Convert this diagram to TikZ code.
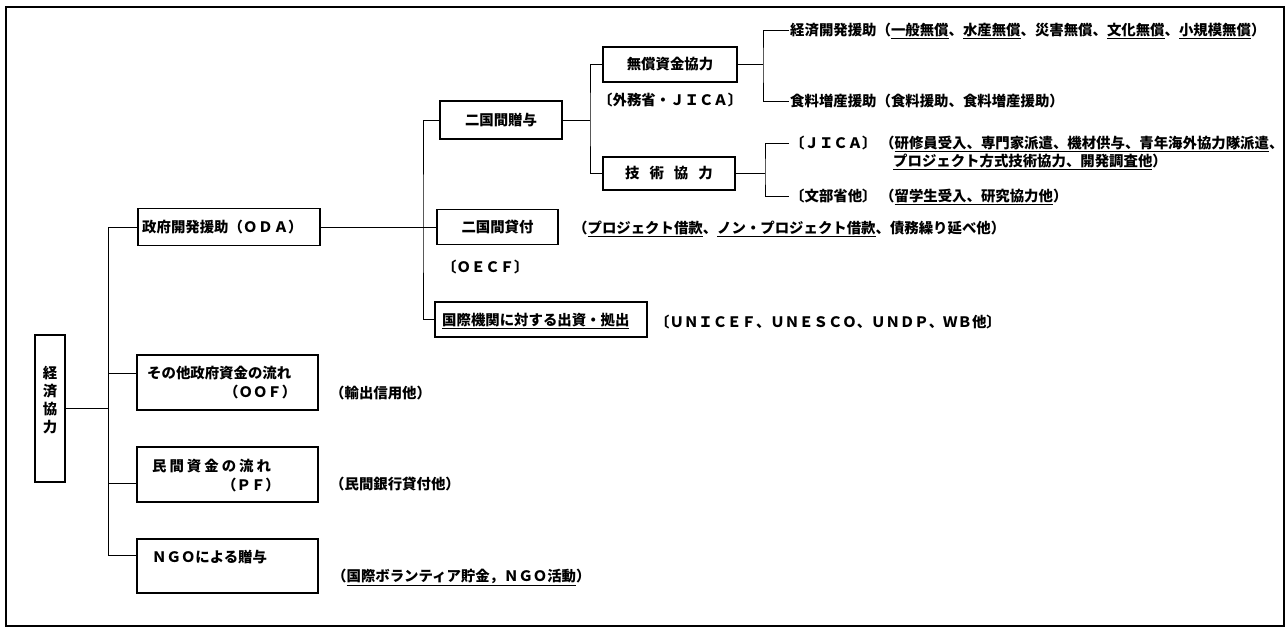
\documentclass[tikz,border=0pt]{standalone}
\usepackage{fontspec}
\setmainfont{Noto Sans CJK JP}
\usetikzlibrary{calc}
\newcommand{\uln}[1]{\underline{#1}}
\begin{document}
\begin{tikzpicture}[x=1pt,y=-1pt,
  box/.style={draw, line width=1.1pt, inner sep=0pt},
  ctext/.style={font=\fontsize{14.4}{17}\selectfont\bfseries},
  lbl/.style={anchor=west, inner xsep=1pt, inner ysep=0pt, text height=12.5pt, text depth=2pt, font=\fontsize{14.4}{17}\selectfont\bfseries},
  conn/.style={line width=0.9pt}]
\useasboundingbox (0,0) rectangle (1286,630);
\draw[line width=1.2pt] (6,7) rectangle (1284,626);

% level 0
\node[box, minimum width=30pt, minimum height=147pt] (kzbox) at (50,408.5) {};
\node[align=center, inner sep=0pt, font=\fontsize{14.4}{18}\selectfont\bfseries] (kztext) at (50,400) {経\\済\\協\\力};

% level 1 boxes
\node[box, minimum width=182pt, minimum height=37pt] (oda) at (229,227) {};
\node[lbl] (odatext) at (141,227) {政府開発援助（Ｏ\hspace{1pt}Ｄ\hspace{1pt}Ａ）};

\node[box, minimum width=181pt, minimum height=55pt] (oof) at (227.5,382.5) {};
\node[lbl] (ooft1) at (146,373) {その他政府資金の流れ};
\node[lbl] (ooft2) at (223,392) {（ＯＯＦ）};

\node[box, minimum width=181pt, minimum height=55pt] (pf) at (227.5,474.5) {};
\node[lbl] (pft1) at (151,466) {民\hspace{3pt}間\hspace{3pt}資\hspace{3pt}金\hspace{3pt}の\hspace{3pt}流\hspace{3pt}れ};
\node[lbl] (pft2) at (221,485) {（ＰＦ）};

\node[box, minimum width=181pt, minimum height=54pt] (ngo) at (227.5,566) {};
\node[lbl] (ngot) at (151,557) {ＮＧＯによる贈与};

\node[lbl] (yushutsu) at (329,393) {（輸出信用他）};
\node[lbl] (minkan) at (329,484) {（民間銀行貸付他）};
\node[lbl] (ngolbl) at (331,576) {（\uln{国際ボランティア貯金，ＮＧＯ活動}）};

% level 2
\node[box, ctext, minimum width=122pt, minimum height=38pt] (zoutei) at (501,120) {二国間贈与};
\node[box, ctext, minimum width=121pt, minimum height=35pt] (kashi) at (497.5,227) {二国間貸付};
\node[box, minimum width=212pt, minimum height=35pt] (kokusai) at (541,319.5) {};
\node[lbl] (kokusait) at (441,320) {\uln{国際機関に対する出資・拠出}};

\node[lbl] (oecf) at (441,267) {〔ＯＥＣＦ〕};
\node[lbl] (kashilbl) at (572,228) {（\uln{プロジェクト借款}、\uln{ノン・プロジェクト借款}、債務繰り延べ他）};
\node[lbl] (unicef) at (654,322) {〔ＵＮＩＣＥＦ、ＵＮＥＳＣＯ、ＵＮＤＰ、ＷＢ他〕};

% level 3
\node[box, ctext, minimum width=134pt, minimum height=35pt] (musho) at (670,64.5) {無償資金協力};
\node[lbl] (gaimu) at (597,100) {〔外務省・ＪＩＣＡ〕};
\node[box, ctext, minimum width=132pt, minimum height=33pt] (gijutsu) at (669,173.5) {技\hspace{10pt}術\hspace{10pt}協\hspace{10pt}力};

% level 4 texts
\node[lbl] (kaihatsu) at (789,30) {経済開発援助（\uln{一般無償}、\uln{水産無償}、災害無償、\uln{文化無償}、\uln{小規模無償}）};
\node[lbl] (shokuryo) at (789,101) {食料増産援助（食料援助、食料増産援助）};
\node[lbl] (jica) at (789,143) {〔ＪＩＣＡ〕};
\node[lbl] (jicat1) at (879,143) {（\uln{研修員受入、専門家派遣、機材供与、青年海外協力隊派遣}、};
\node[lbl] (jicat2) at (892,161) {\uln{プロジェクト方式技術協力、開発調査他}）};
\node[lbl] (monbu) at (789,196) {〔文部省他〕};
\node[lbl] (monbut) at (879,196) {（\uln{留学生受入、研究協力他}）};

% trunk 1
\coordinate (t1top) at (108,227);
\coordinate (t1bot) at (108,555);
\coordinate (t1mid) at (108,408.5);
\coordinate (oofc) at ([yshift=9.5pt]oof.west);
\coordinate (pfc) at ([yshift=-8.5pt]pf.west);
\coordinate (ngoc) at ([yshift=11pt]ngo.west);
\draw[conn] (oda.west) -- (t1top) -- (t1bot) -- (ngoc);
\draw[conn] (kzbox.east) -- (t1mid);
\draw[conn] (oofc) -- (oofc -| t1top);
\draw[conn] (pfc) -- (pfc -| t1top);

% trunk 2
\coordinate (t2) at (423,227);
\draw[conn] (zoutei.west) -| (t2) |- (kokusai.west);
\draw[conn] (oda.east) -- (kashi.west);

% trunk 3
\coordinate (t3) at (590,120);
\draw[conn] (musho.west) -| (t3) |- (gijutsu.west);
\draw[conn] (zoutei.east) -- (t3);

% trunk 4
\coordinate (t4) at (763,64.5);
\draw[conn] (kaihatsu.west) -| (t4) |- (shokuryo.west);
\draw[conn] (musho.east) -- (t4);

% trunk 5
\coordinate (t5) at (765,173.5);
\draw[conn] (jica.west) -| (t5) |- (monbu.west);
\draw[conn] (gijutsu.east) -- (t5);
\end{tikzpicture}
\end{document}
